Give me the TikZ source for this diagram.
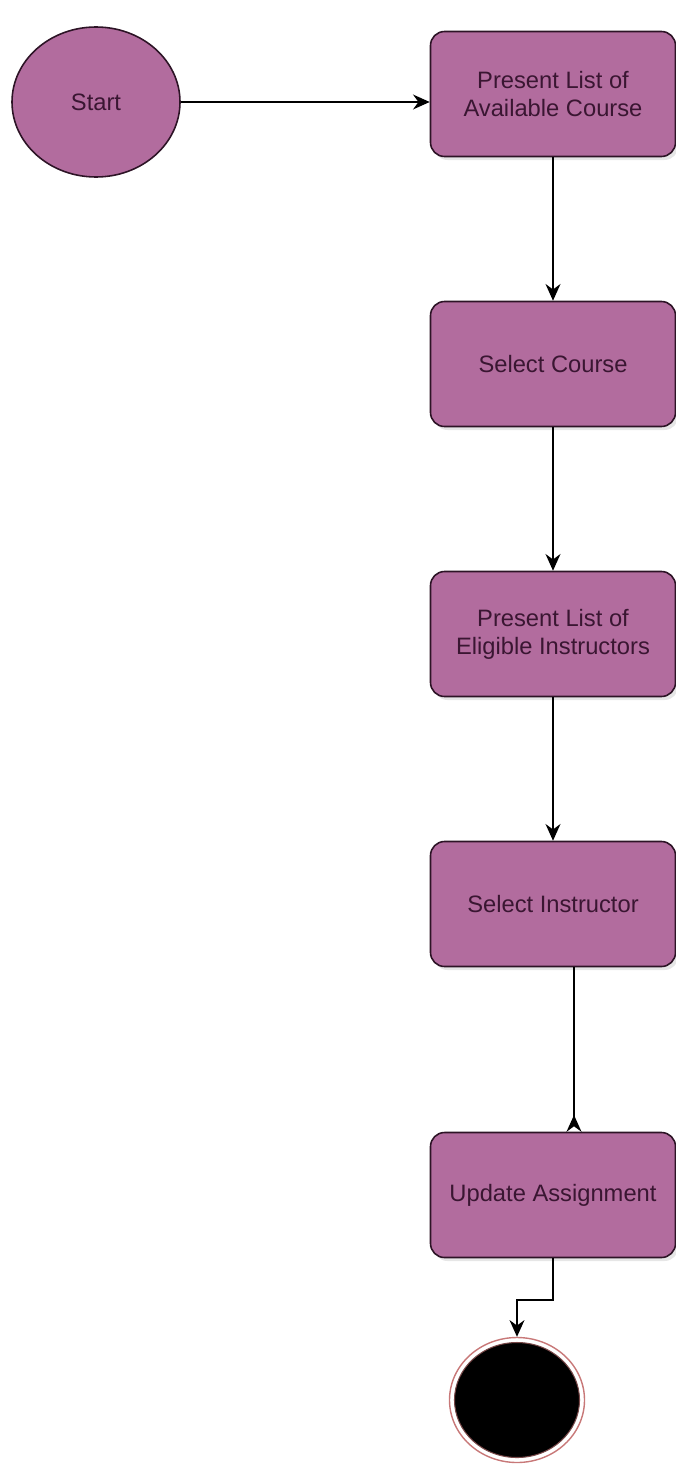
\documentclass[tikz,border=0pt]{standalone}
\usepackage{fontspec}
\setmainfont{Liberation Sans}
\usetikzlibrary{arrows.meta,positioning,shapes.geometric,shadows}
\definecolor{actFill}{RGB}{178,108,158}
\definecolor{actLine}{RGB}{45,20,38}
\definecolor{actText}{RGB}{58,22,50}
\definecolor{endRing}{RGB}{200,120,120}

\begin{document}
\begin{tikzpicture}[
    act/.style={rectangle, rounded corners=8pt, draw=actLine, fill=actFill,
                minimum width=49mm, minimum height=25mm, align=center,
                font=\fontsize{13.5}{16}\selectfont, line width=0.9pt, text=actText,
                drop shadow={opacity=0.2, shadow xshift=0.06cm, shadow yshift=-0.07cm}},
    arr/.style={-{Stealth[length=9.5pt, width=8.5pt]}, black, line width=0.8pt}
  ]
  \useasboundingbox (0,0) rectangle (13.5,-29.3);
  \node[ellipse, draw=actLine, fill=actFill, line width=0.9pt, text=actText,
        minimum width=33.6mm, minimum height=30mm,
        font=\fontsize{13.5}{16}\selectfont] (start) at (1.92,-2.04) {Start};
  \node[act] (b1) at (11.06,-1.88) {Present List of\\Available Course};
  \node[act] (b2) at (11.06,-7.28) {Select Course};
  \node[act] (b3) at (11.06,-12.68) {Present List of\\Eligible Instructors};
  \node[act] (b4) at (11.06,-18.08) {Select Instructor};
  \node[act] (b5) at (11.06,-23.9) {Update Assignment};
  \node[ellipse, draw=endRing, fill=white, line width=0.8pt,
        minimum width=27mm, minimum height=25mm] (end) at (10.34,-28.0) {};
  \node[ellipse, fill=black, draw=endRing!60!black, line width=0.6pt,
        minimum width=25mm, minimum height=23mm] (endin) at (end) {};
  \coordinate (bend) at (11.06,-26.0);
  \draw[arr] (start.east) -- (start.east -| b1.west);
  \draw[arr] (b1) -- (b2);
  \draw[arr] (b2) -- (b3);
  \draw[arr] (b3) -- (b4);
  \draw[-{Stealth[length=9.5pt, width=8.5pt, reversed]}, line width=0.8pt]
    ([xshift=4.2mm]b4.south) -- ([xshift=4.2mm]b5.north);
  \draw[arr] (b5.south) -- (bend) -| (end.north);
\end{tikzpicture}
\end{document}
